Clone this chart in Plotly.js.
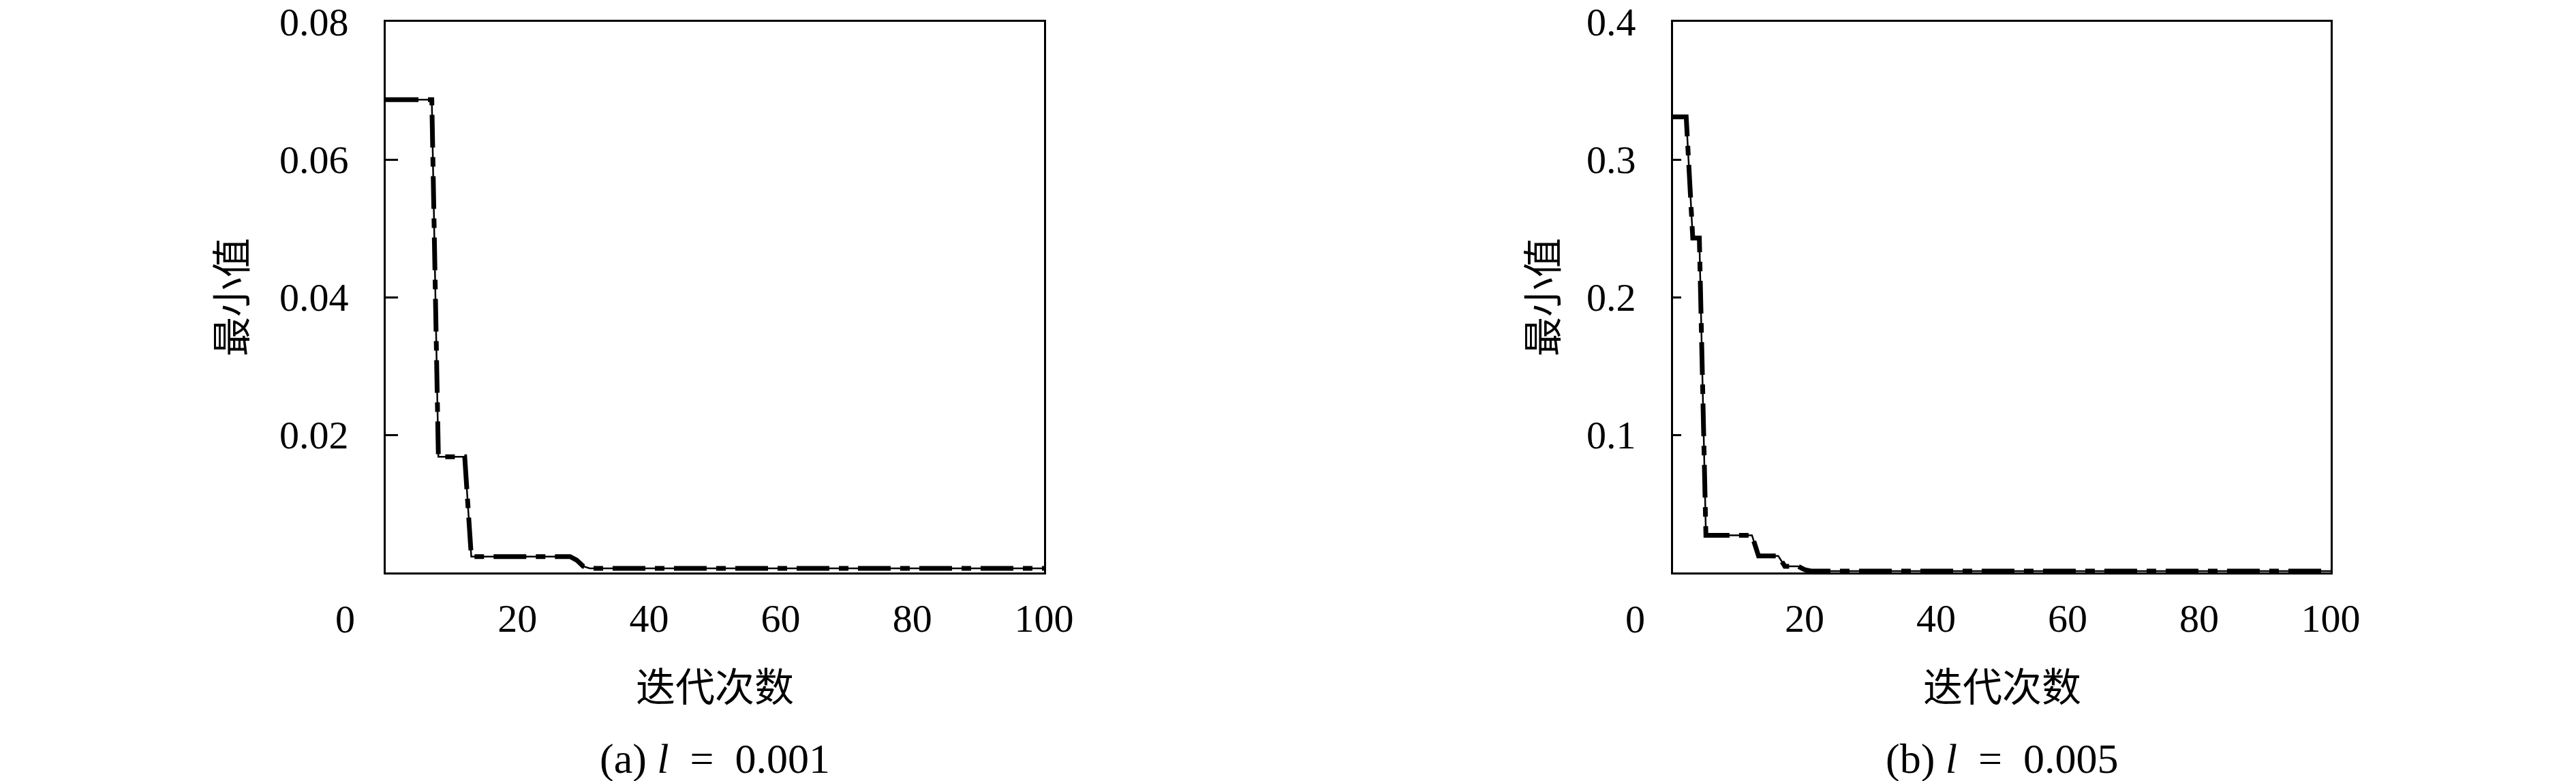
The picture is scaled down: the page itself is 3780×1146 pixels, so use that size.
<!DOCTYPE html>
<html>
<head>
<meta charset="utf-8">
<script src="https://cdn.plot.ly/plotly-3.0.1.min.js"></script>
<style>
  html, body { margin: 0; padding: 0; background: #fff; }
  #chart { width: 3780px; height: 1146px; }
</style>
</head>
<body>
<div id="chart"></div>
<script>
// (a) l = 0.001  -- breakpoints of the two curves
const iterA = [0, 7, 8, 12, 13, 28, 29, 30, 31, 100];
const solidA = [0.0687, 0.0687, 0.0168, 0.0168, 0.0023, 0.0023, 0.0018, 0.0009, 0.0006, 0.0006];
const dashA = [0.0687, 0.0687, 0.0168, 0.0168, 0.0023, 0.0023, 0.0018, 0.0009, 0.0006, 0.0006];

// (b) l = 0.005
const iterB = [0, 2, 3, 4, 5, 12, 13, 16, 17, 19, 20, 21, 100];
const solidB = [0.331, 0.331, 0.243, 0.243, 0.027, 0.027, 0.012, 0.012, 0.0045, 0.0045, 0.002, 0.001, 0.001];
const dashB = [0.331, 0.331, 0.243, 0.243, 0.027, 0.027, 0.012, 0.012, 0.0045, 0.0045, 0.002, 0.001, 0.001];

const xTicks = [20, 40, 60, 80, 100];
const yTicksA = [0.02, 0.04, 0.06, 0.08];
const yTicksB = [0.1, 0.2, 0.3, 0.4];
const yTitle = '最小值';
const xTitle = '迭代次数';
const captionA = '(a) <i>l</i> &nbsp;=&nbsp; 0.001';
const captionB = '(b) <i>l</i> &nbsp;=&nbsp; 0.005';

const FONT = '"Liberation Serif", "Noto Sans CJK SC", serif';
const FS = 58;

function solidTrace(x, y, xa, ya) {
    return {
        x: x, y: y, xaxis: xa, yaxis: ya,
        type: 'scatter', mode: 'lines', cliponaxis: false,
        line: {color: '#000', width: 2.5},
        showlegend: false, hoverinfo: 'skip'
    };
}

function dashTrace(x, y, xa, ya) {
    return {
        x: x, y: y, xaxis: xa, yaxis: ya,
        type: 'scatter', mode: 'lines', cliponaxis: false,
        line: {color: '#000', width: 7, dash: '48px,14px,14px,14px'},
        showlegend: false, hoverinfo: 'skip'
    };
}

function xAxis(domain, anchor) {
    return {
        domain: domain, anchor: anchor, range: [0, 100],
        showline: true, mirror: true, linewidth: 3, linecolor: '#000',
        showgrid: false, zeroline: false, ticks: '',
        tickvals: xTicks, ticktext: xTicks.map(String),
        tickfont: {family: FONT, size: FS, color: '#000'},
        ticklabelstandoff: 14, fixedrange: true
    };
}

function yAxis(domain, anchor, range, vals, len) {
    return {
        domain: domain, anchor: anchor, range: range,
        showline: true, mirror: true, linewidth: 3, linecolor: '#000',
        showgrid: false, zeroline: false,
        ticks: 'inside', ticklen: len, tickwidth: 3, tickcolor: '#000',
        tickvals: vals, ticktext: vals.map(String),
        tickfont: {family: FONT, size: FS, color: '#000'},
        ticklabelstandoff: 40, fixedrange: true
    };
}

const yDom = [1 - 840 / 1146, 1 - 32 / 1146];
const xDomA = [566 / 3780, 1532 / 3780];
const xDomB = [2455 / 3780, 3420 / 3780];

function note(text, xref, x, y, extra) {
    return Object.assign({
        text: text, xref: xref, yref: 'paper', x: x, y: y,
        showarrow: false, xanchor: 'center', yanchor: 'middle',
        font: {family: FONT, size: FS, color: '#000'}
    }, extra || {});
}

const capFont = {family: FONT, size: 62, color: '#000'};

const layout = {
    width: 3780, height: 1146,
    margin: {l: 0, r: 0, t: 0, b: 0},
    paper_bgcolor: '#fff', plot_bgcolor: '#fff',
    xaxis: xAxis(xDomA, 'y'),
    yaxis: yAxis(yDom, 'x', [0, 0.08], yTicksA, 18),
    xaxis2: xAxis(xDomB, 'y2'),
    yaxis2: yAxis(yDom, 'x2', [0, 0.4], yTicksB, 12),
    annotations: [
        note('0', 'x domain', -0.062, 1 - 908 / 1146),
        note('0', 'x2 domain', -0.058, 1 - 908 / 1146),
        note(yTitle, 'paper', 342 / 3780, 1 - 436 / 1146, {textangle: -90}),
        note(yTitle, 'paper', 2266 / 3780, 1 - 436 / 1146, {textangle: -90}),
        note(xTitle, 'x domain', 0.5, 1 - 1009 / 1146),
        note(xTitle, 'x2 domain', 0.5, 1 - 1009 / 1146),
        note(captionA, 'x domain', 0.5, 1 - 1113 / 1146, {font: capFont}),
        note(captionB, 'x2 domain', 0.5, 1 - 1113 / 1146, {font: capFont})
    ]
};

const data = [
    solidTrace(iterA, solidA, 'x', 'y'),
    dashTrace(iterA, dashA, 'x', 'y'),
    solidTrace(iterB, solidB, 'x2', 'y2'),
    dashTrace(iterB, dashB, 'x2', 'y2')
];

Plotly.newPlot('chart', data, layout, {staticPlot: true, displayModeBar: false});
</script>
</body>
</html>
